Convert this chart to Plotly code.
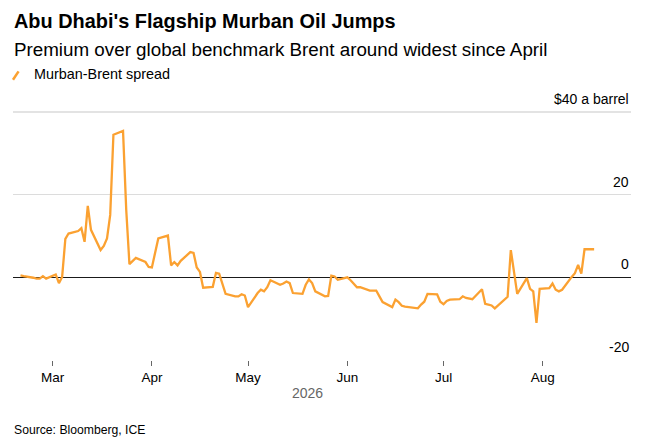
import plotly.graph_objects as go
import pandas as pd

# Murban-Brent spread, $ a barrel, one value per trading day from 19 Feb 2026
spread = [
    0.5, 0.3, -0.1, -0.3, -0.3, 0.3, -0.3, 0.7, -1.4, 0.1,
    9.3, 10.6, 11.2, 11.9, 8.6, 17.3, 11.5, 6.6, 7.6, 9.4,
    15.1, 34.5, 35.4, 16.3, 3.2, 4.0, 4.7, 3.7, 2.5, 2.4,
    5.9, 9.4, 10.1, 2.9, 3.7, 2.9, 4.0, 6.1, 5.9, 2.4,
    1.3, -2.5, -2.3, 1.1, 0.9, -1.5, -4.0, -4.6, -4.6, -4.1,
    -4.4, -7.2, -3.8, -3.0, -3.4, -2.4, -0.7, -1.8, -1.5, -1.0,
    -1.4, -3.8, -4.0, -1.8, -0.5, -1.4, -3.4, -4.6, -4.5, 0.4,
    0.2, -0.6, 0.0, -0.7, -1.6, -2.4, -2.4, -3.2, -3.2, -3.2,
    -4.6, -6.0, -7.2, -5.4, -6.0, -6.9, -7.1, -7.3, -7.5, -6.6,
    -5.9, -4.0, -4.1, -5.9, -6.5, -5.7, -5.4, -5.3, -4.6, -5.0,
    -5.2, -5.3, -2.9, -6.4, -6.6, -6.8, -7.5, -5.4, -4.7, 6.6,
    1.0, -4.0, -0.2, -2.8, -3.4, -11.0, -2.8, -2.6, -1.5, -3.0,
    -3.4, -3.0, 0.1, 1.0, 3.0, 0.9, 6.8, 6.8,
]
dates = pd.bdate_range("2026-02-19", periods=len(spread))

month_ticks = ["2026-03-01", "2026-04-01", "2026-05-01", "2026-06-01", "2026-07-01", "2026-08-01"]
month_labels = ["Mar", "Apr", "May", "Jun", "Jul", "Aug"]
y_ticks = [-20, 0, 20, 40]
y_labels = ["-20", "0", "20", "$40 a barrel"]

orange = "#fba131"
font = "Liberation Sans, Arial, sans-serif"

fig = go.Figure()
fig.add_trace(
    go.Scatter(
        x=dates,
        y=spread,
        mode="lines",
        line=dict(color=orange, width=2.3),
        name="Murban-Brent spread",
        showlegend=False,
    )
)

annotations = []
# y labels sit above the gridlines at the right edge
for v, t in zip(y_ticks, y_labels):
    annotations.append(dict(
        xref="paper", x=1, xanchor="right", yref="y", y=v, yanchor="bottom",
        yshift=3, text=t, showarrow=False, font=dict(size=14, color="#000"),
    ))

annotations += [
    dict(xref="paper", yref="paper", x=-0.002, y=1.367, xanchor="left", yanchor="middle",
         text="<b>Abu Dhabi's Flagship Murban Oil Jumps</b>", showarrow=False,
         font=dict(size=19.9, color="#000")),
    dict(xref="paper", yref="paper", x=-0.002, y=1.254, xanchor="left", yanchor="middle",
         text="Premium over global benchmark Brent around widest since April", showarrow=False,
         font=dict(size=18.8, color="#000")),
    dict(xref="paper", yref="paper", x=0.031, y=1.153, xanchor="left", yanchor="middle",
         text="Murban-Brent spread", showarrow=False, font=dict(size=14.4, color="#000")),
    dict(xref="paper", yref="paper", x=0.477, y=-0.133, xanchor="center", yanchor="middle",
         text="2026", showarrow=False, font=dict(size=14, color="#666")),
    dict(xref="paper", yref="paper", x=-0.002, y=-0.282, xanchor="left", yanchor="middle",
         text="Source: Bloomberg, ICE", showarrow=False, font=dict(size=12.2, color="#000")),
]

shapes = [
    # legend swatch
    dict(type="line", xref="paper", yref="paper", x0=0.0, y0=1.13, x1=0.009, y1=1.164,
         line=dict(color=orange, width=2.5)),
    # heavier top rule
    dict(type="line", xref="paper", yref="paper", x0=0, y0=1, x1=1, y1=1,
         line=dict(color="#e3e3e3", width=2)),
]

fig.update_layout(
    width=658,
    height=444,
    margin=dict(l=13, r=27, t=112, b=84),
    paper_bgcolor="white",
    plot_bgcolor="white",
    font=dict(family=font, color="#000"),
    annotations=annotations,
    shapes=shapes,
    xaxis=dict(
        type="date",
        range=["2026-02-16 16:00", "2026-08-28 12:00"],
        tickvals=month_ticks,
        ticktext=month_labels,
        ticks="outside",
        ticklen=5,
        tickcolor="#666",
        tickfont=dict(size=13.5, color="#000"),
        showgrid=False,
        showline=False,
        zeroline=False,
    ),
    yaxis=dict(
        range=[-20, 40],
        tickvals=y_ticks,
        showticklabels=False,
        gridcolor="#dcdcdc",
        gridwidth=1,
        zeroline=True,
        zerolinecolor="#1a1a1a",
        zerolinewidth=1.3,
        fixedrange=True,
    ),
)

# the page body has a default 8px margin; drop it so the figure fills the window
fig.write_html(
    "out.html",
    config={"displayModeBar": False},
    post_script="document.body.style.margin='0px';",
)
